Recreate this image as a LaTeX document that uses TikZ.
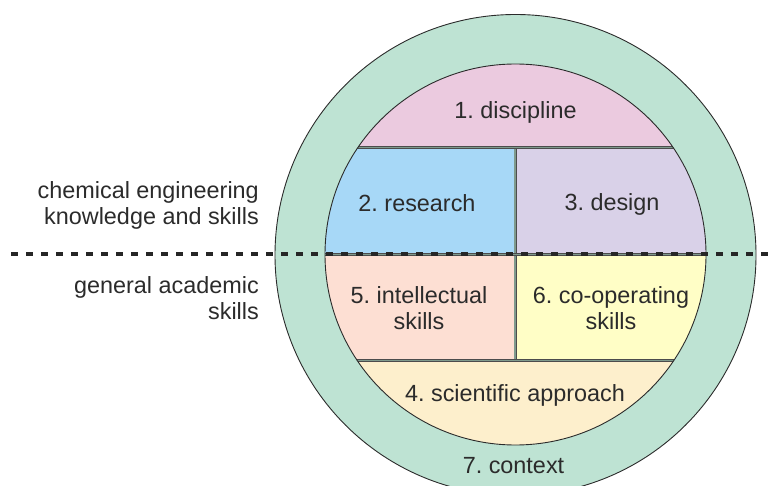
\documentclass[tikz,border=0pt]{standalone}
\usepackage{fontspec}
\setmainfont{Liberation Sans}
\frenchspacing
\usetikzlibrary{positioning}

\definecolor{ringgreen}{HTML}{BEE3D3}
\definecolor{discpink}{HTML}{EBCADF}
\definecolor{resblue}{HTML}{A7D8F7}
\definecolor{deslilac}{HTML}{D9D1E8}
\definecolor{intpeach}{HTML}{FDDFD3}
\definecolor{coopyellow}{HTML}{FFFEC6}
\definecolor{sciorange}{HTML}{FDEFCC}
\definecolor{divgray}{HTML}{7F9A8D}
\definecolor{inkgray}{HTML}{2B2B2B}

\begin{document}
\begin{tikzpicture}[x=1pt, y=-1pt,
    rim/.style={draw=inkgray, line width=0.9},
    divider/.style={draw=black!70, line width=0.8, double=divgray, double distance=1.4},
    dotline/.style={draw=black!85, line width=4, dash pattern=on 7 off 8},
    label text/.style={font=\fontsize{23.4}{26}\selectfont\frenchspacing, text=inkgray,
        align=center, inner sep=0pt, anchor=base}]
    \useasboundingbox (0,0) rectangle (776,486);

    % outer ring and inner disc
    \coordinate (outer) at (515.5,255);
    \coordinate (inner) at (515.5,254.5);
    \path[rim, fill=ringgreen] (outer) circle (240.5);
    \begin{scope}
        \clip (inner) circle (190.5);
        \fill[discpink] (300,40) rectangle (730,147.7);
        \fill[resblue] (300,147.7) rectangle (515,254.5);
        \fill[deslilac] (515,147.7) rectangle (730,254.5);
        \fill[intpeach] (300,254.5) rectangle (515,360.5);
        \fill[coopyellow] (515,254.5) rectangle (730,360.5);
        \fill[sciorange] (300,360.5) rectangle (730,470);
        \draw[divider] (515,147.7) -- (515,360.5);
        \foreach \y in {147.7,254.5,360.5}
            \draw[divider] (300,\y) -- (730,\y);
    \end{scope}
    \draw[rim] (inner) circle (190.5);

    % boundary between the two groups
    \coordinate (split west) at (11,254.5);
    \coordinate (split east) at (776,254.5);
    \draw[dotline] (split west) -- (split east);

    % base anchor of a two-line label sits on its last line
    \node[label text] (discipline) at (515.5,118.3) {1. discipline};
    \node[label text] (research) at (417,211.5) {2. research};
    \node[label text] (design) at (612,210.7) {3. design};
    \node[label text] (intellectual) at (419,329.3) {5. intellectual\\skills};
    \node[label text] (cooperating) at (611,329.3) {6. co-operating\\skills};
    \node[label text] (scientific) at (515,401) {4. scientific approach};
    \node[label text] (context) at (513.5,473.3) {7. context};

    \node[label text, align=right, anchor=base east] (cheme) at (259,225)
        {chemical engineering\\knowledge and skills};
    \node[label text, align=right, anchor=base east] (general) at (259,319.5)
        {general academic\\skills};
\end{tikzpicture}
\end{document}
